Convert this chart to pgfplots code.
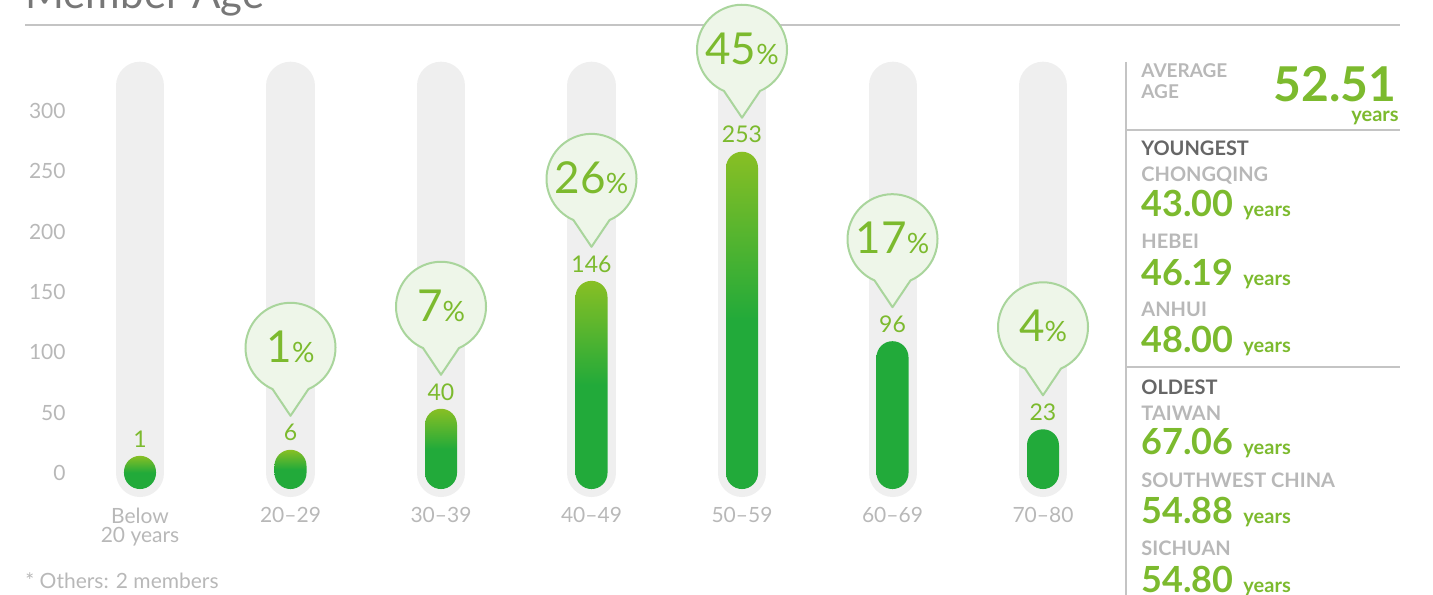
\documentclass[border=0pt]{standalone}
\usepackage{fontspec}
\setmainfont{Lato}
\usepackage{pgfplots}
\usepackage{pgfplotstable}
\pgfplotsset{compat=1.18}

\definecolor{trackgray}{HTML}{EFEFEF}
\definecolor{barTop}{HTML}{88BF24}
\definecolor{barBot}{HTML}{22AA3A}
\definecolor{numgreen}{HTML}{7CBA2E}
\definecolor{bubfill}{HTML}{EEF6E9}
\definecolor{bubedge}{HTML}{A9D59C}
\definecolor{lblgray}{HTML}{B8B8B8}
\definecolor{headgray}{HTML}{666666}
\definecolor{rulegray}{HTML}{C4C4C4}
\definecolor{titlegray}{HTML}{777777}

% members per age group, share in percent
\pgfplotstableread{
x n pct
0 1 0
1 6 1
2 40 7
3 146 26
4 253 45
5 96 17
6 23 4
}\agedata

\newcommand{\agenum}[1]{{\fontsize{18}{18}\selectfont\bfseries #1}\hspace{5pt}{\fontsize{10}{10}\selectfont\bfseries years}}

\begin{document}
\begin{tikzpicture}
\useasboundingbox (0pt,0pt) rectangle (716.5pt,297pt);

% everything outside the axis, in image pixels from the top left
\begin{scope}[x=0.5pt, y=-0.5pt, shift={(0pt,297pt)}]
\node[anchor=base west, inner sep=0pt, text=titlegray, font=\fontsize{21}{21}\selectfont] at (25,9) {Member Age};
\draw[rulegray, line width=0.7pt] (25,25) -- (1400,25);
\draw[rulegray, line width=0.8pt] (1126,62) -- (1126,600);
\draw[rulegray, line width=0.8pt] (1126,130) -- (1400,130);
\draw[rulegray, line width=0.8pt] (1126,367) -- (1400,367);

\begin{scope}[every node/.style={anchor=base west, inner sep=0pt}]
\node[text=lblgray, font=\fontsize{9.5}{9.5}\selectfont\bfseries] at (1141,78) {AVERAGE};
\node[text=lblgray, font=\fontsize{9.5}{9.5}\selectfont\bfseries] at (1141,99) {AGE};
\node[anchor=base east, text=numgreen, font=\fontsize{24}{24}\selectfont\bfseries] at (1397,102) {52.51};
\node[anchor=base east, text=numgreen, font=\fontsize{10}{10}\selectfont\bfseries] at (1399,122) {years};

\node[text=headgray, font=\fontsize{10}{10}\selectfont\bfseries] at (1141,156) {YOUNGEST};
\node[text=lblgray, font=\fontsize{10}{10}\selectfont\bfseries] at (1141,182) {CHONGQING};
\node[text=numgreen] at (1141,217) {\agenum{43.00}};
\node[text=lblgray, font=\fontsize{10}{10}\selectfont\bfseries] at (1141,249) {HEBEI};
\node[text=numgreen] at (1141,286) {\agenum{46.19}};
\node[text=lblgray, font=\fontsize{10}{10}\selectfont\bfseries] at (1141,317) {ANHUI};
\node[text=numgreen] at (1141,353) {\agenum{48.00}};

\node[text=headgray, font=\fontsize{10}{10}\selectfont\bfseries] at (1141,395) {OLDEST};
\node[text=lblgray, font=\fontsize{10}{10}\selectfont\bfseries] at (1141,421) {TAIWAN};
\node[text=numgreen] at (1141,455) {\agenum{67.06}};
\node[text=lblgray, font=\fontsize{10}{10}\selectfont\bfseries] at (1141,488) {SOUTHWEST CHINA};
\node[text=numgreen] at (1141,523) {\agenum{54.88}};
\node[text=lblgray, font=\fontsize{10}{10}\selectfont\bfseries] at (1141,555) {SICHUAN};
\node[text=numgreen] at (1141,592) {\agenum{54.80}};
\end{scope}

\node[anchor=base west, inner sep=0pt, text=lblgray, font=\fontsize{10.5}{10.5}\selectfont] at (25,588) {* Others: 2 members};
\end{scope}

\begin{axis}[
    at={(32.375pt,45.4pt)}, anchor=south west,
    scale only axis,
    width=526.75pt, height=226.25pt,
    xmin=-0.5, xmax=6.5, ymin=-25, ymax=350,
    clip=false,
    axis line style={draw=none},
    major tick length=0pt,
    xtick={0,...,6},
    xticklabels={{Below\\20 years},20--29,30--39,40--49,50--59,60--69,70--80},
    xticklabel style={anchor=north, inner sep=0pt, yshift=-2pt, align=center,
        text=lblgray, font=\fontsize{10.5}{9.5}\selectfont},
    ytick={0,50,...,300},
    yticklabel style={anchor=east, inner sep=0pt, xshift=0.6pt,
        text=lblgray, font=\fontsize{10.5}{12}\selectfont},
    /pgf/number format/assume math mode=true,
]
% grey tracks behind the bars
\addplot[ycomb, mark=none, line width=24pt, line cap=round, color=trackgray]
    coordinates {(0,321) (1,321) (2,321) (3,321) (4,321) (5,321) (6,321)};

% rounded, shaded bars
\addplot[scatter, only marks, mark=text, text mark={},
    visualization depends on={rawy \as \val},
    scatter/@pre marker code/.code={%
        \pgfmathsetmacro\h{\val*0.603333}%
        \shade[draw=none, top color=barTop, bottom color=barBot, middle color=barBot, rounded corners=7.99pt]
            (-8pt,-\h pt-8pt) rectangle (8pt,8pt);
    },
    scatter/@post marker code/.code={},
] table[x=x, y=n] {\agedata};

% counts on top of the bars
\addplot[draw=none, mark=none, nodes near coords,
    every node near coord/.style={anchor=center, yshift=16.5pt, text=numgreen,
        font=\fontsize{11.5}{11.5}\selectfont},
] table[x=x, y=n] {\agedata};

% speech bubbles
\addplot[scatter, only marks, mark=text, text mark={},
    scatter/@pre marker code/.code={%
        \filldraw[fill=bubfill, draw=bubedge, line width=1pt, line join=round]
            (0pt,25pt) -- (9.01pt,38.38pt) arc[start angle=-66.4, end angle=246.4, radius=22.5pt] -- cycle;
    },
    scatter/@post marker code/.code={},
] table[x=x, y=n, skip coords between index={0}{1}] {\agedata};

\addplot[draw=none, mark=none, point meta=explicit symbolic,
    nodes near coords={{\fontsize{22}{22}\selectfont\pgfplotspointmeta}{\fontsize{14}{14}\selectfont\%}},
    every node near coord/.style={anchor=center, yshift=59.5pt, text=numgreen, inner sep=0pt},
] table[x=x, y=n, meta=pct, skip coords between index={0}{1}] {\agedata};
\end{axis}
\end{tikzpicture}
\end{document}
